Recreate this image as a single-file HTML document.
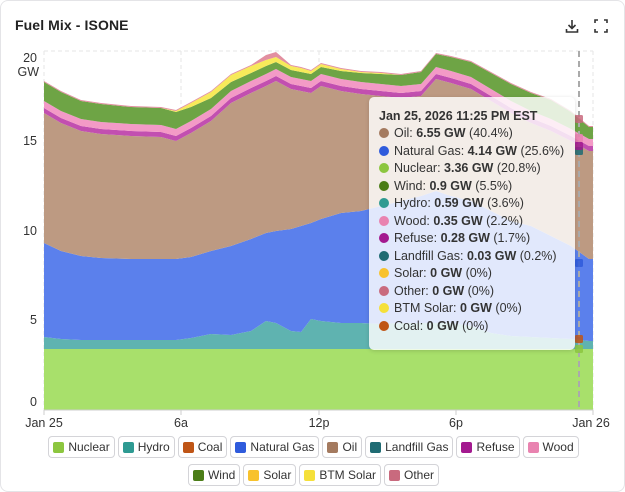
<!DOCTYPE html>
<html><head><meta charset="utf-8"><style>
body{margin:0;background:#fff;font-family:"Liberation Sans",sans-serif;}
.card{position:absolute;left:0;top:0;width:623px;height:490px;border:1px solid #e4e4e7;border-radius:8px;background:#fff;overflow:hidden}
.title{position:absolute;left:14px;top:16px;font-size:14px;color:#222;font-weight:bold;letter-spacing:0.1px}
.tt{position:absolute;left:368px;top:96px;width:206px;height:253px;background:rgba(255,255,255,0.82);border-radius:5px;box-shadow:0 1px 4px rgba(0,0,0,0.15);font-size:12.5px;color:#333}
.tt .h{font-weight:bold;margin:12px 0 2px 10px;font-size:12.5px}
.tt .r{height:17.5px;line-height:17.5px;padding-left:10px;white-space:nowrap}
.tt .d{display:inline-block;width:10px;height:10px;border-radius:50%;margin-right:5px;vertical-align:-1px}
.lg{position:absolute;left:0;width:625px;text-align:center;font-size:12px;color:#333}
.it{display:inline-block;border:1px solid #d4d4d8;border-radius:4px;height:20px;line-height:20px;padding:0 4px 0 4px;margin:0 1.5px;white-space:nowrap}
.it i{display:inline-block;width:11px;height:11px;border-radius:2px;margin-right:4px;vertical-align:-2px}
</style></head><body>
<div class="card">
<div class="title">Fuel Mix - ISONE</div>
<svg style="position:absolute;left:563px;top:17px" width="16" height="16" viewBox="0 0 16 16"><path d="M8 2v8M4.5 7L8 10.5 11.5 7M2.5 11v3h11v-3" fill="none" stroke="#333" stroke-width="1.6"/></svg>
<svg style="position:absolute;left:593px;top:18px" width="14" height="14" viewBox="0 0 14 14"><path d="M1 4V1h3M10 1h3v3M13 10v3h-3M4 13H1v-3" fill="none" stroke="#333" stroke-width="1.6"/></svg>
<svg id="ch" style="position:absolute;left:0;top:0" width="625" height="492"></svg>
<div class="tt">
<div class="h">Jan 25, 2026 11:25 PM EST</div>
<div class="r"><span class="d" style="background:#a47a5f"></span>Oil: <b>6.55 GW</b> (40.4%)</div>
<div class="r"><span class="d" style="background:#2f5bdc"></span>Natural Gas: <b>4.14 GW</b> (25.6%)</div>
<div class="r"><span class="d" style="background:#8cc63f"></span>Nuclear: <b>3.36 GW</b> (20.8%)</div>
<div class="r"><span class="d" style="background:#4b7d17"></span>Wind: <b>0.9 GW</b> (5.5%)</div>
<div class="r"><span class="d" style="background:#2e9a92"></span>Hydro: <b>0.59 GW</b> (3.6%)</div>
<div class="r"><span class="d" style="background:#e983b0"></span>Wood: <b>0.35 GW</b> (2.2%)</div>
<div class="r"><span class="d" style="background:#a3198f"></span>Refuse: <b>0.28 GW</b> (1.7%)</div>
<div class="r"><span class="d" style="background:#1f6b73"></span>Landfill Gas: <b>0.03 GW</b> (0.2%)</div>
<div class="r"><span class="d" style="background:#f8c22c"></span>Solar: <b>0 GW</b> (0%)</div>
<div class="r"><span class="d" style="background:#c96a7e"></span>Other: <b>0 GW</b> (0%)</div>
<div class="r"><span class="d" style="background:#f5e03a"></span>BTM Solar: <b>0 GW</b> (0%)</div>
<div class="r"><span class="d" style="background:#bf5516"></span>Coal: <b>0 GW</b> (0%)</div>
</div>
<div class="lg" style="top:435px">
<span class="it"><i style="background:#8cc63f"></i>Nuclear</span><span class="it"><i style="background:#2e9a92"></i>Hydro</span><span class="it"><i style="background:#bf5516"></i>Coal</span><span class="it"><i style="background:#2f5bdc"></i>Natural Gas</span><span class="it"><i style="background:#a47a5f"></i>Oil</span><span class="it"><i style="background:#1f6b73"></i>Landfill Gas</span><span class="it"><i style="background:#a3198f"></i>Refuse</span><span class="it"><i style="background:#e983b0"></i>Wood</span>
</div>
<div class="lg" style="top:463px">
<span class="it"><i style="background:#4b7d17"></i>Wind</span><span class="it"><i style="background:#f8c22c"></i>Solar</span><span class="it"><i style="background:#f5e03a"></i>BTM Solar</span><span class="it"><i style="background:#c96a7e"></i>Other</span>
</div>
</div>
<script>
var X=[43,60,80,100,130,160,175,190,210,230,250,265,275,290,300,310,320,340,360,380,400,420,435,450,470,490,510,530,550,570,588];
var hyd=[336,338,339,339,339,339,339,337,333,334,330,320,322,330,331,318,320,322,322,323,322,322,322,322,325,332,335,336,337,338,340];
var gas=[242,250,255,257,258,258,258,256,250,245,238,232,230,228,225,222,218,212,210,205,200,195,190,195,200,210,220,225,235,245,258];
var oil=[112,122,130,133,135,136,140,132,120,102,92,85,80,88,90,92,85,90,93,95,97,95,78,82,88,100,112,122,130,140,150];
var wnd=[19,19,18,18,17,17,17,14,11,9,8,8,7,7,7,7,7,8,9,10,11,12,13,14,15,16,17,18,19,17,12];
var sol=[0,0,0,0,0,0,1,4,6,7,7,6,5,4,4,3,3,2,1,1,0,0,0,0,0,0,0,0,0,0,0];
var NS="http://www.w3.org/2000/svg",svg=document.getElementById('ch');
function el(t,a){var e=document.createElementNS(NS,t);for(var k in a)e.setAttribute(k,a[k]);svg.appendChild(e);return e;}
function poly(top,bot,c,op){var p=[];for(var i=0;i<X.length;i++)p.push(X[i]+','+top[i]);p.push('592,'+top[top.length-1]);p.push('592,'+bot[bot.length-1]);for(var i=X.length-1;i>=0;i--)p.push(X[i]+','+bot[i]);el('polygon',{points:p.join(' '),fill:c,'fill-opacity':op||1});}
var n=X.length,base=[],nuc=[],ref=[],wod=[],win=[],so=[],oth=[];
for(var i=0;i<n;i++){base[i]=409;nuc[i]=348;ref[i]=oil[i]-5;wod[i]=ref[i]-7;win[i]=wod[i]-wnd[i];so[i]=win[i]-sol[i];oth[i]=so[i]-((X[i]>250&&X[i]<290)?5:1);}
[50,139,229,318].forEach(function(y){el('line',{x1:43,x2:592,y1:y,y2:y,stroke:'#e5e5e5','stroke-dasharray':'4,3'});});
[43,180,318,455,592].forEach(function(x){el('line',{x1:x,x2:x,y1:50,y2:409,stroke:'#e5e5e5','stroke-dasharray':'4,3'});});
poly(nuc,base,'#a8e06b');poly(hyd,nuc,'#5fb3b0');poly(gas,hyd,'#5b80ec');poly(oil,gas,'#bd9a82');
poly(ref,oil,'#c24fb0');poly(wod,ref,'#f39ac6');poly(win,wod,'#6ea445');poly(so,win,'#f7ea5a');poly(oth,so,'#e28fa0');
el('line',{x1:43,x2:592,y1:409,y2:409,stroke:'#ccc'});
[43,180,318,455,592].forEach(function(x){el('line',{x1:x,x2:x,y1:409,y2:414,stroke:'#ccc'});});
el('line',{x1:578,x2:578,y1:50,y2:409,stroke:'#aaa','stroke-width':2,'stroke-dasharray':'6,4'});
[[348,'#8cc63f'],[338,'#bf5516'],[262,'#2f5bdc'],[150,'#1f6b73'],[145,'#a3198f'],[137,'#e983b0'],[118,'#c96a7e']].forEach(function(a){el('rect',{x:574,y:a[0]-4,width:8,height:8,rx:1.5,fill:a[1],'fill-opacity':0.85});});
function tx(x,y,s,anc){var t=el('text',{x:x,y:y,'font-size':12.5,fill:'#333','text-anchor':anc,'font-family':'Liberation Sans'});t.textContent=s;}
tx(36,61,'20','end');tx(38,75,'GW','end');tx(36,144,'15','end');tx(36,234,'10','end');tx(36,323,'5','end');tx(36,405,'0','end');
tx(43,426,'Jan 25','middle');tx(180,426,'6a','middle');tx(318,426,'12p','middle');tx(455,426,'6p','middle');tx(590,426,'Jan 26','middle');
</script>
</body></html>
